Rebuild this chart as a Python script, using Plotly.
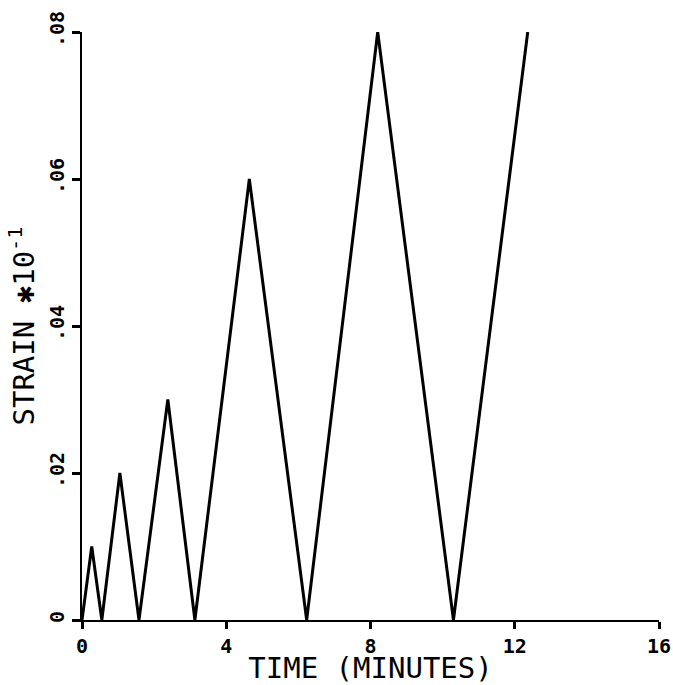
import plotly.graph_objects as go

# Data (time in minutes, strain x10^-1)
time_min = [0.0, 0.27, 0.55, 1.05, 1.58, 2.38, 3.13, 4.64, 6.23, 8.20, 10.30, 12.36]
strain = [0.0, 0.010, 0.0, 0.020, 0.0, 0.030, 0.0, 0.060, 0.0, 0.080, 0.0, 0.080]

x_ticks = [0, 4, 8, 12, 16]
x_ticklabels = ["0", "4", "8", "12", "16"]
y_ticks = [0, 0.02, 0.04, 0.06, 0.08]
y_ticklabels = ["0", ".02", ".04", ".06", ".08"]

x_title = "TIME (MINUTES)"
y_title = "STRAIN \u273110<sup>-1</sup>"

FONT = "DejaVu Sans Mono"

fig = go.Figure()
fig.add_trace(go.Scatter(
    x=time_min, y=strain, mode="lines",
    line=dict(color="black", width=3),
    cliponaxis=False, showlegend=False,
))

fig.update_xaxes(
    range=[0, 16], tickvals=x_ticks, ticktext=x_ticklabels,
    showgrid=False, zeroline=False, showline=True, linecolor="black", linewidth=2,
    ticks="outside", ticklen=7, tickwidth=2.5, tickcolor="black",
    tickfont=dict(family=FONT, size=20, color="black", weight="bold"),
    title=dict(text=x_title, font=dict(family=FONT, size=29, color="black"), standoff=0),
)
fig.update_yaxes(
    range=[0, 0.08], tickvals=y_ticks, ticktext=y_ticklabels,
    showgrid=False, zeroline=False, showline=True, linecolor="black", linewidth=2,
    ticks="outside", ticklen=8, tickwidth=2.5, tickcolor="black",
    tickangle=-90,
    tickfont=dict(family=FONT, size=20, color="black", weight="bold"),
    title=dict(text=y_title, font=dict(family=FONT, size=29, color="black"), standoff=2),
)

fig.update_layout(
    template="none",
    width=673, height=685,
    margin=dict(l=82, r=14, t=32, b=65),
    plot_bgcolor="white", paper_bgcolor="white",
)

fig.write_html("out.html")
